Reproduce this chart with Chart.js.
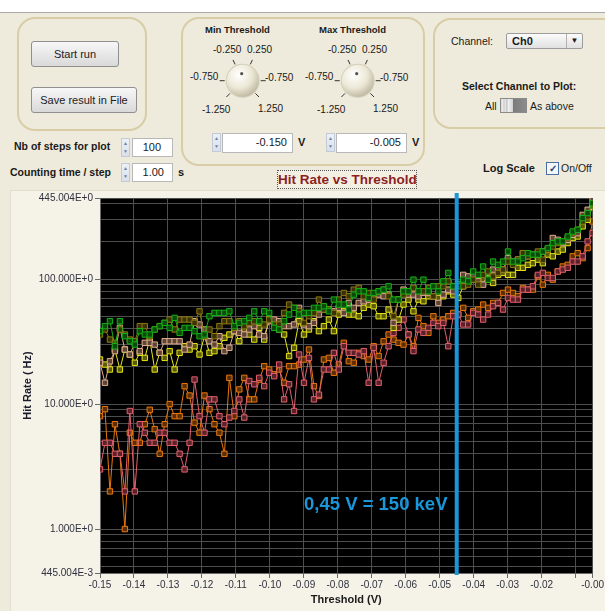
<!DOCTYPE html>
<html>
<head>
<meta charset="utf-8">
<script src="https://cdn.jsdelivr.net/npm/chart.js@4.4.1/dist/chart.umd.min.js"></script>
<style>
  body { margin: 0; width: 605px; height: 611px; position: relative; overflow: hidden;
    background: #eeebdc; font-family: "Liberation Sans", Arial, sans-serif; color: #1a1a1a; }
  .a { position: absolute; white-space: nowrap; }
  #topbar { left: 0; top: 0; width: 605px; height: 12px; background: #fff; border-bottom: 1px solid #a9a9a9; }
  .box { position: absolute; border: 2px solid #d8cda6; border-radius: 18px; box-sizing: border-box; }
  .btn { position: absolute; border: 1px solid #8f8f8f; border-radius: 3px; box-sizing: border-box;
    background: linear-gradient(#f7f7f7, #d9d9d9); font-size: 11px; text-align: center; color: #222; }
  .bold { font-weight: bold; }
  .field { position: absolute; background: #fff; border: 1px solid #b8b8b8; box-sizing: border-box;
    font-size: 11px; text-align: right; padding-right: 5px; line-height: 17px; }
  .spin { position: absolute; width: 9px; height: 19px; border: 1px solid #c2cad8; box-sizing: border-box;
    background: linear-gradient(#edf1f7, #d9e0eb); font-size: 5px; color: #6f80a0; text-align: center; line-height: 8px; }
  .knobtxt { position: absolute; font-size: 10px; white-space: nowrap; }
  #graphbg { left: 10px; top: 190px; width: 595px; height: 421px; background: #f5f3e8; border-top: 1px solid #e2dfcf; border-left: 1px solid #e2dfcf; }
  #wrap { left: 10px; top: 190px; width: 595px; height: 421px; }
  #note { left: 304px; top: 493px; font-size: 18.5px; font-weight: bold; color: #1b96d8; }
</style>
</head>
<body>
<div id="topbar" class="a"></div>

<!-- run box -->
<div class="box" style="left:17px;top:17px;width:130px;height:114px;"></div>
<div class="btn" style="left:31px;top:41px;width:88px;height:26px;line-height:24px;">Start run</div>
<div class="btn" style="left:31px;top:87px;width:106px;height:26px;line-height:24px;">Save result in File</div>
<div class="a bold" style="left:14px;top:140px;font-size:10.5px;">Nb of steps for plot</div>
<div class="spin" style="left:121px;top:138px;">&#9650;<br>&#9660;</div>
<div class="field" style="left:132px;top:138px;width:41px;height:19px;padding-right:11px;">100</div>
<div class="a bold" style="left:10px;top:166px;font-size:10.5px;">Counting time / step</div>
<div class="spin" style="left:121px;top:163px;">&#9650;<br>&#9660;</div>
<div class="field" style="left:132px;top:163px;width:41px;height:19px;padding-right:8px;">1.00</div>
<div class="a bold" style="left:178px;top:166px;font-size:11px;">s</div>

<!-- threshold box -->
<div class="box" style="left:181px;top:17px;width:244px;height:149px;"></div>
<div class="a bold" style="left:205px;top:24px;font-size:9.5px;">Min Threshold</div>
<div class="a bold" style="left:319px;top:24px;font-size:9.5px;">Max Threshold</div>
<svg class="a" style="left:181px;top:17px;" width="244" height="150">
  <defs>
    <radialGradient id="kg" cx="0.38" cy="0.32" r="0.75">
      <stop offset="0" stop-color="#ffffff"/>
      <stop offset="0.55" stop-color="#ece8d6"/>
      <stop offset="1" stop-color="#b9b39a"/>
    </radialGradient>
  </defs>
  <g transform="translate(61.7,63.7)">
    <circle r="17" fill="#d4cfba"/>
    <circle r="16" fill="url(#kg)"/>
    <circle cx="-1" cy="-7" r="1.6" fill="#555"/>
    <g stroke="#333" stroke-width="1">
      <line x1="-7.6" y1="-16.3" x2="-9.7" y2="-20.8"/>
      <line x1="7.6" y1="-16.3" x2="9.7" y2="-20.8"/>
      <line x1="-18" y1="0" x2="-23" y2="0"/>
      <line x1="18" y1="0" x2="23" y2="0"/>
      <line x1="-12.7" y1="12.7" x2="-16.3" y2="16.3"/>
      <line x1="12.7" y1="12.7" x2="16.3" y2="16.3"/>
    </g>
  </g>
  <g transform="translate(176.7,63.7)">
    <circle r="17" fill="#d4cfba"/>
    <circle r="16" fill="url(#kg)"/>
    <circle cx="-1" cy="-7" r="1.6" fill="#555"/>
    <g stroke="#333" stroke-width="1">
      <line x1="-7.6" y1="-16.3" x2="-9.7" y2="-20.8"/>
      <line x1="7.6" y1="-16.3" x2="9.7" y2="-20.8"/>
      <line x1="-18" y1="0" x2="-23" y2="0"/>
      <line x1="18" y1="0" x2="23" y2="0"/>
      <line x1="-12.7" y1="12.7" x2="-16.3" y2="16.3"/>
      <line x1="12.7" y1="12.7" x2="16.3" y2="16.3"/>
    </g>
  </g>
</svg>
<div class="knobtxt" style="left:213px;top:44px;">-0.250</div>
<div class="knobtxt" style="left:247px;top:44px;">0.250</div>
<div class="knobtxt" style="left:190px;top:71px;">-0.750</div>
<div class="knobtxt" style="left:265px;top:72px;">-0.750</div>
<div class="knobtxt" style="left:202px;top:104px;">-1.250</div>
<div class="knobtxt" style="left:258px;top:103px;">1.250</div>
<div class="knobtxt" style="left:328px;top:44px;">-0.250</div>
<div class="knobtxt" style="left:362px;top:44px;">0.250</div>
<div class="knobtxt" style="left:305px;top:71px;">-0.750</div>
<div class="knobtxt" style="left:380px;top:72px;">-0.750</div>
<div class="knobtxt" style="left:317px;top:104px;">-1.250</div>
<div class="knobtxt" style="left:373px;top:103px;">1.250</div>
<div class="spin" style="left:212px;top:133px;">&#9650;<br>&#9660;</div>
<div class="field" style="left:222px;top:133px;width:71px;height:20px;">-0.150</div>
<div class="a bold" style="left:298px;top:136px;font-size:11px;">V</div>
<div class="spin" style="left:326px;top:133px;">&#9650;<br>&#9660;</div>
<div class="field" style="left:336px;top:133px;width:71px;height:20px;">-0.005</div>
<div class="a bold" style="left:412px;top:136px;font-size:11px;">V</div>

<!-- channel box -->
<div class="box" style="left:433px;top:18px;width:190px;height:111px;"></div>
<div class="a" style="left:451px;top:35px;font-size:10.5px;">Channel:</div>
<div class="a" style="left:506px;top:33px;width:77px;height:16px;border:1px solid #9c9c9c;border-radius:2px;box-sizing:border-box;background:linear-gradient(#fbfbfb,#e1e1e1);">
  <span class="a bold" style="left:5px;top:1px;font-size:11px;">Ch0</span>
  <span class="a" style="left:59px;top:0px;width:15px;height:14px;border-left:1px solid #b0b0b0;font-size:8px;text-align:center;line-height:14px;">&#9660;</span>
</div>
<div class="a bold" style="left:462px;top:80px;font-size:10.5px;">Select Channel to Plot:</div>
<div class="a" style="left:485px;top:100px;font-size:10.5px;">All</div>
<div class="a" style="left:500px;top:98px;width:27px;height:15px;border:1px solid #8a8a8a;box-sizing:border-box;
  background:linear-gradient(90deg,#d6d6d6 0,#f2f2f2 2px,#bcbcbc 3px,#f2f2f2 4px,#bcbcbc 6px,#f2f2f2 7px,#d0d0d0 12px,#7b7b7b 12px,#8c8c8c 100%);"></div>
<div class="a" style="left:530px;top:100px;font-size:10.5px;">As above</div>
<div class="a bold" style="left:483px;top:162px;font-size:11px;">Log Scale</div>
<div class="a" style="left:546px;top:162px;width:13px;height:13px;border:1px solid #4a6fa0;box-sizing:border-box;background:#f4f6fa;
  font-size:10px;line-height:11px;text-align:center;color:#24467a;font-weight:bold;">&#10003;</div>
<div class="a" style="left:561px;top:162px;font-size:10.5px;">On/Off</div>

<div class="a bold" style="left:277px;top:170px;width:140px;height:19px;border:1px dotted #555;box-sizing:border-box;
  font-size:13.5px;line-height:17px;color:#8b1f1f;text-align:center;background:#f3f0e3;">Hit Rate vs Threshold</div>

<div id="graphbg" class="a"></div>
<div id="wrap" class="a"><canvas id="c" width="595" height="421"></canvas></div>
<div id="note" class="a">0,45 V = 150 keV</div>

<script>
"use strict";

// Threshold sweep as set in the panel (Min / Max threshold, Nb of steps)
const STEP_MIN = -0.15;
const STEP_MAX = -0.005;
const NB_STEPS = 100;
const MARKER_X = -0.045;

const X_TICKS = [-0.15, -0.14, -0.13, -0.12, -0.11, -0.10, -0.09, -0.08, -0.07, -0.06, -0.05, -0.04, -0.03, -0.02, -0.01, -0.005];
const X_TICK_LABELS = ["-0.15", "-0.14", "-0.13", "-0.12", "-0.11", "-0.10", "-0.09", "-0.08", "-0.07", "-0.06", "-0.05", "-0.04", "-0.03", "-0.02", "", "-0.00"];

const Y_MIN = 0.445004;
const Y_MAX = 445.004;
const Y_TICK_VALUES = [0.445004, 1, 10, 100, 445.004];
const Y_TICK_LABELS = ["445.004E-3", "1.000E+0", "10.000E+0", "100.000E+0", "445.004E+0"];

// Hit rates (Hz), one value per threshold step
const HIT_GREEN = [
  38.3, 42.0, 46.0, 29.0, 46.0, 34.9, 31.8, 29.9, 38.3, 36.0, 36.0, 39.5, 42.0, 44.6, 40.7, 48.9, 37.1, 40.7, 40.7, 38.3, 34.9, 36.0, 50.4, 53.6, 53.6,
  53.6, 55.2, 42.0, 44.6, 46.0, 48.9, 55.2, 46.0, 55.2, 53.6, 40.7, 39.5, 46.0, 52.0, 58.8, 52.0, 53.6, 53.6, 58.8, 58.8, 60.6, 55.2, 68.5, 62.5, 62.5,
  57.0, 75.1, 79.8, 79.8, 70.6, 77.4, 79.8, 82.3, 87.5, 68.5, 68.5, 79.8, 79.8, 98.9, 79.8, 98.9, 79.8, 87.5, 79.8, 95.9, 112, 87.5, 87.5, 98.9, 95.9,
  115, 108, 126, 98.9, 138, 130, 138, 166, 138, 138, 147, 161, 157, 157, 166, 177, 194, 200, 200, 219, 240, 248, 307, 337, 405,
];
const HIT_OLIVE = [
  36.0, 39.5, 32.8, 30.9, 39.5, 36.0, 32.8, 31.8, 42.0, 42.0, 34.9, 39.5, 42.0, 44.6, 47.4, 39.5, 47.4, 47.4, 47.4, 44.6, 55.2, 34.9, 39.5, 34.9, 42.0,
  46.0, 46.0, 40.7, 46.0, 42.0, 44.6, 46.0, 46.0, 43.3, 47.4, 43.3, 43.3, 53.6, 62.5, 58.8, 55.2, 44.6, 50.4, 53.6, 68.5, 57.0, 57.0, 53.6, 68.5, 77.4,
  72.8, 82.3, 84.9, 72.8, 77.4, 68.5, 79.8, 82.3, 72.8, 50.4, 68.5, 75.1, 79.8, 84.9, 79.8, 79.8, 84.9, 72.8, 87.5, 87.5, 95.9, 87.5, 90.2, 87.5, 90.2,
  98.9, 90.2, 108, 115, 105, 112, 119, 138, 130, 143, 161, 152, 157, 166, 143, 172, 182, 194, 200, 213, 233, 248, 289, 317, 405,
];
const HIT_TAN = [
  21.4, 14.8, 22.0, 26.5, 40.7, 27.3, 24.9, 30.9, 26.5, 30.9, 30.9, 29.9, 25.7, 31.8, 31.8, 31.8, 31.8, 27.3, 29.9, 46.0, 43.3, 39.5, 31.8, 29.9, 34.9,
  26.5, 28.2, 38.3, 37.1, 36.0, 39.5, 42.0, 36.0, 34.9, 46.0, 47.4, 46.0, 42.0, 42.0, 43.3, 58.8, 43.3, 42.0, 44.6, 52.0, 57.0, 57.0, 55.2, 58.8, 53.6,
  64.4, 58.8, 64.4, 66.4, 68.5, 72.8, 75.1, 72.8, 75.1, 44.6, 68.5, 82.3, 75.1, 75.1, 72.8, 77.4, 77.4, 72.8, 64.4, 75.1, 82.3, 79.8, 90.2, 108, 105,
  108, 95.9, 90.2, 112, 119, 123, 119, 147, 138, 143, 161, 152, 157, 161, 166, 172, 213, 206, 194, 206, 226, 233, 326, 358, 430,
];
const HIT_YELLOW = [
  22.7, 20.7, 18.9, 27.3, 18.9, 27.3, 24.9, 21.4, 25.7, 23.4, 32.8, 18.9, 25.7, 23.4, 26.5, 18.9, 25.7, 29.0, 27.3, 29.0, 24.9, 34.9, 25.7, 26.5, 29.0,
  33.9, 36.0, 38.3, 31.8, 39.5, 36.0, 32.8, 40.7, 32.8, 47.4, 46.0, 39.5, 36.0, 24.2, 28.2, 46.0, 36.0, 39.5, 46.0, 38.3, 42.0, 47.4, 38.3, 52.0, 55.2,
  52.0, 52.0, 50.4, 58.8, 62.5, 60.6, 50.4, 50.4, 57.0, 40.7, 47.4, 62.5, 68.5, 55.2, 68.5, 66.4, 72.8, 72.8, 70.6, 72.8, 79.8, 75.1, 70.6, 87.5, 95.9,
  98.9, 98.9, 98.9, 98.9, 93.1, 108, 112, 108, 108, 123, 123, 130, 134, 143, 134, 157, 152, 166, 172, 194, 213, 219, 264, 298, 380,
];
const HIT_ORANGE = [
  8.0, 9.1, 2.0, 6.9, 4.0, 1.0, 5.9, 4.9, 4.9, 6.9, 9.0, 6.3, 4.0, 6.9, 10.0, 8.0, 8.0, 13.9, 11.7, 7.1, 5.9, 11.7, 9.1, 6.9, 5.9, 4.0,
  16.2, 8.0, 13.1, 16.2, 10.9, 10.9, 15.7, 20.1, 18.9, 17.3, 18.9, 14.8, 20.1, 20.1, 20.7, 22.7, 27.3, 13.9, 11.6, 22.7, 23.4, 17.8, 20.7, 30.9, 22.0,
  21.4, 25.7, 24.2, 22.7, 29.0, 24.2, 31.8, 36.0, 32.8, 30.9, 29.9, 36.0, 29.0, 48.9, 42.0, 37.1, 50.4, 44.6, 47.4, 50.4, 53.6, 52.0, 58.8, 48.9, 55.2,
  57.0, 62.5, 58.8, 64.4, 64.4, 77.4, 82.3, 77.4, 72.8, 84.9, 82.3, 82.3, 105, 90.2, 108, 98.9, 115, 126, 130, 152, 161, 147, 177, 289,
];
const HIT_PINK = [
  3.0, 4.9, 4.9, 4.0, 4.0, 2.0, 8.8, 2.0, 6.9, 5.9, 4.9, 4.9, 5.9, 5.9, 4.9, 4.9, 4.0, 3.0, 4.9, 15.7, 8.0, 5.9, 10.9, 10.9, 8.0, 6.9,
  7.8, 8.8, 10.9, 7.8, 15.3, 14.4, 16.2, 13.9, 17.8, 16.7, 20.7, 10.9, 14.4, 8.8, 24.9, 14.8, 23.4, 10.9, 11.9, 18.9, 18.9, 25.7, 18.9, 29.0, 25.7,
  25.7, 24.9, 26.5, 14.8, 28.2, 14.8, 21.4, 29.0, 37.1, 40.7, 47.4, 36.0, 26.5, 39.5, 37.1, 40.7, 44.6, 42.0, 44.6, 29.0, 50.4, 52.0, 43.3, 43.3, 53.6,
  52.0, 47.4, 52.0, 60.6, 64.4, 57.0, 70.6, 68.5, 68.5, 82.3, 82.3, 87.5, 108, 112, 102, 102, 115, 119, 123, 138, 138, 152, 200, 233,
];

const SERIES = [
  { data: HIT_GREEN, line: "#16b016", fill: "#0b4a0b" },
  { data: HIT_OLIVE, line: "#8c7a12", fill: "#3a3206" },
  { data: HIT_TAN, line: "#e0ae90", fill: "#5e4536" },
  { data: HIT_YELLOW, line: "#e6e61a", fill: "#5a5a08" },
  { data: HIT_PINK, line: "#e2606e", fill: "#5a2228" },
  { data: HIT_ORANGE, line: "#e8780e", fill: "#5c2e04" },
];

function thresholdAt(i) {
  return STEP_MIN + (i * (STEP_MAX - STEP_MIN)) / (NB_STEPS - 1);
}

function yLabelIndex(v) {
  return Y_TICK_VALUES.findIndex((t) => Math.abs(v / t - 1) < 1e-6);
}

function yGridTicks() {
  const out = [Y_MIN];
  for (let e = -1; e <= 2; e++) {
    for (let m = 1; m <= 9; m++) {
      const v = m * Math.pow(10, e);
      if (v > Y_MIN * 1.0001 && v < Y_MAX * 0.9999) out.push(v);
    }
  }
  out.push(Y_MAX);
  return out;
}

const plotBg = {
  id: "plotBg",
  beforeDraw(chart) {
    const a = chart.chartArea;
    const ctx = chart.ctx;
    ctx.save();
    ctx.fillStyle = "#000";
    ctx.fillRect(a.left, a.top, a.right - a.left, a.bottom - a.top);
    ctx.restore();
  },
};

const markerLine = {
  id: "markerLine",
  afterDatasetsDraw(chart) {
    const a = chart.chartArea;
    const x = chart.scales.x.getPixelForValue(MARKER_X);
    const ctx = chart.ctx;
    ctx.save();
    ctx.strokeStyle = "#1b96d8";
    ctx.lineWidth = 4;
    ctx.beginPath();
    ctx.moveTo(x, a.top - 5);
    ctx.lineTo(x, a.bottom + 2);
    ctx.stroke();
    ctx.restore();
  },
};

const GRID = "#4e4e4e";
const TICK_TXT = "#30303e";

new Chart(document.getElementById("c"), {
  type: "line",
  data: {
    datasets: SERIES.map((s) => ({
      data: s.data.map((y, i) => ({ x: thresholdAt(i), y })),
      borderColor: s.line,
      borderWidth: 1,
      pointStyle: "rect",
      pointRadius: 3.8,
      pointBorderWidth: 1,
      pointBorderColor: s.line,
      pointBackgroundColor: s.fill,
      tension: 0,
    })),
  },
  options: {
    responsive: false,
    animation: false,
    layout: { padding: { top: 8, right: 12, left: 0, bottom: 0 } },
    plugins: { legend: { display: false }, tooltip: { enabled: false } },
    scales: {
      x: {
        type: "linear",
        min: STEP_MIN,
        max: STEP_MAX,
        afterBuildTicks: (s) => { s.ticks = X_TICKS.map((v) => ({ value: v })); },
        afterFit: (s) => { s.height = 38; },
        ticks: {
          autoSkip: false, maxRotation: 0, padding: 1, color: TICK_TXT,
          font: { family: "Liberation Sans", size: 10 },
          callback: (v, i) => X_TICK_LABELS[i],
        },
        grid: { color: GRID, tickColor: "#6a6a6a", tickLength: 5 },
        border: { color: "#6a6a6a" },
        title: {
          display: true, text: "Threshold (V)", color: "#1a1a1a",
          font: { family: "Liberation Sans", size: 11, weight: "bold" }, padding: { top: 0, bottom: 4 },
        },
      },
      y: {
        type: "logarithmic",
        min: Y_MIN,
        max: Y_MAX,
        afterBuildTicks: (s) => { s.ticks = yGridTicks().map((v) => ({ value: v })); },
        afterFit: (s) => { s.width = 90; },
        ticks: {
          autoSkip: false, padding: 2, color: TICK_TXT,
          font: { family: "Liberation Sans", size: 10 },
          callback: (v) => { const k = yLabelIndex(v); return k >= 0 ? Y_TICK_LABELS[k] : ""; },
        },
        grid: {
          color: GRID, tickLength: 5,
          tickColor: (c) => (c.tick && yLabelIndex(c.tick.value) >= 0 ? "#6a6a6a" : "rgba(0,0,0,0)"),
        },
        border: { color: "#6a6a6a" },
        title: {
          display: true, text: "Hit Rate ( Hz)", color: "#1a1a2a",
          font: { family: "Liberation Sans", size: 11, weight: "bold" }, padding: { top: 11, bottom: 0 },
        },
      },
    },
  },
  plugins: [plotBg, markerLine],
});
</script>
</body>
</html>
